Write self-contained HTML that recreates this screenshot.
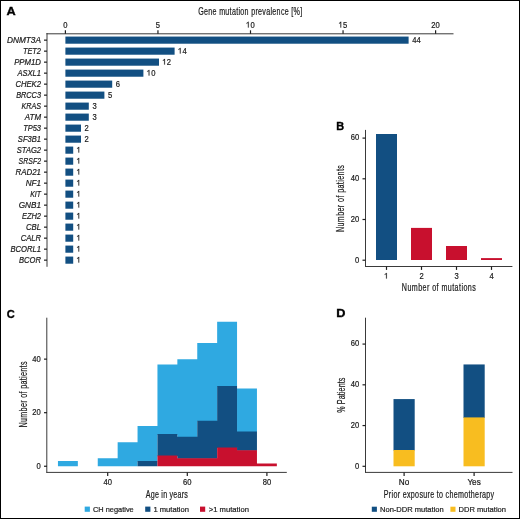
<!DOCTYPE html>
<html><head><meta charset="utf-8"><style>
html,body{margin:0;padding:0;background:#fff;}
body{width:520px;height:519px;overflow:hidden;}
svg{display:block;font-family:"Liberation Sans", sans-serif;will-change:transform;}
</style></head><body>
<svg width="520" height="519" viewBox="0 0 520 519">
<rect x="0" y="0" width="520" height="519" fill="#fff"/>
<text x="6.5" y="14.8" font-size="11.5" text-anchor="start" fill="#000" font-weight="bold" stroke="#000" stroke-width="0.35" textLength="9.2" lengthAdjust="spacingAndGlyphs">A</text>
<text x="0" y="0" font-size="10.2" text-anchor="middle" fill="#1a1a1a" stroke="#1a1a1a" stroke-width="0.214" textLength="148.57" lengthAdjust="spacing" transform="translate(250.2 15.0) scale(0.7 1)">Gene mutation prevalence [%]</text>
<line x1="46.5" y1="33.8" x2="453.5" y2="33.8" stroke="#3a3a3a" stroke-width="1"/>
<line x1="47" y1="33" x2="47" y2="266.8" stroke="#3a3a3a" stroke-width="1"/>
<line x1="65.4" y1="30.3" x2="65.4" y2="33.8" stroke="#1e1e1e" stroke-width="1.2"/>
<text x="63.28" y="27.5" font-size="8.2" text-anchor="start" fill="#1a1a1a" stroke="#1a1a1a" stroke-width="0.2" textLength="4.24" lengthAdjust="spacingAndGlyphs">0</text>
<line x1="157.95000000000002" y1="30.3" x2="157.95000000000002" y2="33.8" stroke="#1e1e1e" stroke-width="1.2"/>
<text x="155.83" y="27.5" font-size="8.2" text-anchor="start" fill="#1a1a1a" stroke="#1a1a1a" stroke-width="0.2" textLength="4.24" lengthAdjust="spacingAndGlyphs">5</text>
<line x1="250.50000000000003" y1="30.3" x2="250.50000000000003" y2="33.8" stroke="#1e1e1e" stroke-width="1.2"/>
<path d="M0.31 0L0.31 -0.69L0.235 -0.69Q0.15 -0.58 0.04 -0.54L0.04 -0.46Q0.15 -0.5 0.22 -0.57L0.22 0Z" transform="translate(246.26 27.50) scale(7.626 8.200)" fill="#1a1a1a" stroke="#1a1a1a" stroke-width="0.0244"/>
<text x="250.5" y="27.5" font-size="8.2" text-anchor="start" fill="#1a1a1a" stroke="#1a1a1a" stroke-width="0.2" textLength="4.24" lengthAdjust="spacingAndGlyphs">0</text>
<line x1="343.05000000000007" y1="30.3" x2="343.05000000000007" y2="33.8" stroke="#1e1e1e" stroke-width="1.2"/>
<path d="M0.31 0L0.31 -0.69L0.235 -0.69Q0.15 -0.58 0.04 -0.54L0.04 -0.46Q0.15 -0.5 0.22 -0.57L0.22 0Z" transform="translate(338.81 27.50) scale(7.626 8.200)" fill="#1a1a1a" stroke="#1a1a1a" stroke-width="0.0244"/>
<text x="343.05" y="27.5" font-size="8.2" text-anchor="start" fill="#1a1a1a" stroke="#1a1a1a" stroke-width="0.2" textLength="4.24" lengthAdjust="spacingAndGlyphs">5</text>
<line x1="435.6" y1="30.3" x2="435.6" y2="33.8" stroke="#1e1e1e" stroke-width="1.2"/>
<text x="431.36" y="27.5" font-size="8.2" text-anchor="start" fill="#1a1a1a" stroke="#1a1a1a" stroke-width="0.2" textLength="4.24" lengthAdjust="spacingAndGlyphs">2</text>
<text x="435.6" y="27.5" font-size="8.2" text-anchor="start" fill="#1a1a1a" stroke="#1a1a1a" stroke-width="0.2" textLength="4.24" lengthAdjust="spacingAndGlyphs">0</text>
<rect x="65.40" y="36.57" width="343.20" height="7.15" fill="#124f82"/>
<line x1="44" y1="40.15" x2="47" y2="40.15" stroke="#1e1e1e" stroke-width="1.2"/>
<text x="41.0" y="42.65" font-size="8.4" text-anchor="end" fill="#1a1a1a" stroke="#1a1a1a" stroke-width="0.2" font-style="italic" textLength="34.076943288295" lengthAdjust="spacingAndGlyphs">DNMT3A</text>
<text x="412.2" y="42.55" font-size="8.2" text-anchor="start" fill="#1a1a1a" stroke="#1a1a1a" stroke-width="0.2" textLength="4.24" lengthAdjust="spacingAndGlyphs">4</text>
<text x="416.44" y="42.55" font-size="8.2" text-anchor="start" fill="#1a1a1a" stroke="#1a1a1a" stroke-width="0.2" textLength="4.24" lengthAdjust="spacingAndGlyphs">4</text>
<rect x="65.40" y="47.57" width="109.20" height="7.15" fill="#124f82"/>
<line x1="44" y1="51.15" x2="47" y2="51.15" stroke="#1e1e1e" stroke-width="1.2"/>
<text x="41.0" y="53.65" font-size="8.4" text-anchor="end" fill="#1a1a1a" stroke="#1a1a1a" stroke-width="0.2" font-style="italic" textLength="18.109558183622358" lengthAdjust="spacingAndGlyphs">TET2</text>
<path d="M0.31 0L0.31 -0.69L0.235 -0.69Q0.15 -0.58 0.04 -0.54L0.04 -0.46Q0.15 -0.5 0.22 -0.57L0.22 0Z" transform="translate(178.20 53.55) scale(7.626 8.200)" fill="#1a1a1a" stroke="#1a1a1a" stroke-width="0.0244"/>
<text x="182.44" y="53.55" font-size="8.2" text-anchor="start" fill="#1a1a1a" stroke="#1a1a1a" stroke-width="0.2" textLength="4.24" lengthAdjust="spacingAndGlyphs">4</text>
<rect x="65.40" y="58.57" width="93.60" height="7.15" fill="#124f82"/>
<line x1="44" y1="62.15" x2="47" y2="62.15" stroke="#1e1e1e" stroke-width="1.2"/>
<text x="41.0" y="64.65" font-size="8.4" text-anchor="end" fill="#1a1a1a" stroke="#1a1a1a" stroke-width="0.2" font-style="italic" textLength="26.82558168280684" lengthAdjust="spacingAndGlyphs">PPM1D</text>
<path d="M0.31 0L0.31 -0.69L0.235 -0.69Q0.15 -0.58 0.04 -0.54L0.04 -0.46Q0.15 -0.5 0.22 -0.57L0.22 0Z" transform="translate(162.60 64.55) scale(7.626 8.200)" fill="#1a1a1a" stroke="#1a1a1a" stroke-width="0.0244"/>
<text x="166.84" y="64.55" font-size="8.2" text-anchor="start" fill="#1a1a1a" stroke="#1a1a1a" stroke-width="0.2" textLength="4.24" lengthAdjust="spacingAndGlyphs">2</text>
<rect x="65.40" y="69.58" width="78.00" height="7.15" fill="#124f82"/>
<line x1="44" y1="73.15" x2="47" y2="73.15" stroke="#1e1e1e" stroke-width="1.2"/>
<text x="41.0" y="75.65" font-size="8.4" text-anchor="end" fill="#1a1a1a" stroke="#1a1a1a" stroke-width="0.2" font-style="italic" textLength="23.534462072824617" lengthAdjust="spacingAndGlyphs">ASXL1</text>
<path d="M0.31 0L0.31 -0.69L0.235 -0.69Q0.15 -0.58 0.04 -0.54L0.04 -0.46Q0.15 -0.5 0.22 -0.57L0.22 0Z" transform="translate(147.00 75.55) scale(7.626 8.200)" fill="#1a1a1a" stroke="#1a1a1a" stroke-width="0.0244"/>
<text x="151.24" y="75.55000000000001" font-size="8.2" text-anchor="start" fill="#1a1a1a" stroke="#1a1a1a" stroke-width="0.2" textLength="4.24" lengthAdjust="spacingAndGlyphs">0</text>
<rect x="65.40" y="80.58" width="46.80" height="7.15" fill="#124f82"/>
<line x1="44" y1="84.15" x2="47" y2="84.15" stroke="#1e1e1e" stroke-width="1.2"/>
<text x="41.0" y="86.65" font-size="8.4" text-anchor="end" fill="#1a1a1a" stroke="#1a1a1a" stroke-width="0.2" font-style="italic" textLength="25.57915132068328" lengthAdjust="spacingAndGlyphs">CHEK2</text>
<text x="115.8" y="86.55000000000001" font-size="8.2" text-anchor="start" fill="#1a1a1a" stroke="#1a1a1a" stroke-width="0.2" textLength="4.24" lengthAdjust="spacingAndGlyphs">6</text>
<rect x="65.40" y="91.58" width="39.00" height="7.15" fill="#124f82"/>
<line x1="44" y1="95.15" x2="47" y2="95.15" stroke="#1e1e1e" stroke-width="1.2"/>
<text x="41.0" y="97.65" font-size="8.4" text-anchor="end" fill="#1a1a1a" stroke="#1a1a1a" stroke-width="0.2" font-style="italic" textLength="24.874509691104073" lengthAdjust="spacingAndGlyphs">BRCC3</text>
<text x="108.0" y="97.55000000000001" font-size="8.2" text-anchor="start" fill="#1a1a1a" stroke="#1a1a1a" stroke-width="0.2" textLength="4.24" lengthAdjust="spacingAndGlyphs">5</text>
<rect x="65.40" y="102.58" width="23.40" height="7.15" fill="#124f82"/>
<line x1="44" y1="106.15" x2="47" y2="106.15" stroke="#1e1e1e" stroke-width="1.2"/>
<text x="41.0" y="108.65" font-size="8.4" text-anchor="end" fill="#1a1a1a" stroke="#1a1a1a" stroke-width="0.2" font-style="italic" textLength="19.5273199488964" lengthAdjust="spacingAndGlyphs">KRAS</text>
<text x="92.4" y="108.55000000000001" font-size="8.2" text-anchor="start" fill="#1a1a1a" stroke="#1a1a1a" stroke-width="0.2" textLength="4.24" lengthAdjust="spacingAndGlyphs">3</text>
<rect x="65.40" y="113.58" width="23.40" height="7.15" fill="#124f82"/>
<line x1="44" y1="117.15" x2="47" y2="117.15" stroke="#1e1e1e" stroke-width="1.2"/>
<text x="41.0" y="119.65" font-size="8.4" text-anchor="end" fill="#1a1a1a" stroke="#1a1a1a" stroke-width="0.2" font-style="italic" textLength="16.145259999855693" lengthAdjust="spacingAndGlyphs">ATM</text>
<text x="92.4" y="119.55000000000001" font-size="8.2" text-anchor="start" fill="#1a1a1a" stroke="#1a1a1a" stroke-width="0.2" textLength="4.24" lengthAdjust="spacingAndGlyphs">3</text>
<rect x="65.40" y="124.58" width="15.60" height="7.15" fill="#124f82"/>
<line x1="44" y1="128.15" x2="47" y2="128.15" stroke="#1e1e1e" stroke-width="1.2"/>
<text x="41.0" y="130.65" font-size="8.4" text-anchor="end" fill="#1a1a1a" stroke="#1a1a1a" stroke-width="0.2" font-style="italic" textLength="17.867366826294017" lengthAdjust="spacingAndGlyphs">TP53</text>
<text x="84.6" y="130.55" font-size="8.2" text-anchor="start" fill="#1a1a1a" stroke="#1a1a1a" stroke-width="0.2" textLength="4.24" lengthAdjust="spacingAndGlyphs">2</text>
<rect x="65.40" y="135.58" width="15.60" height="7.15" fill="#124f82"/>
<line x1="44" y1="139.15" x2="47" y2="139.15" stroke="#1e1e1e" stroke-width="1.2"/>
<text x="41.0" y="141.65" font-size="8.4" text-anchor="end" fill="#1a1a1a" stroke="#1a1a1a" stroke-width="0.2" font-style="italic" textLength="23.145428843902177" lengthAdjust="spacingAndGlyphs">SF3B1</text>
<text x="84.6" y="141.55" font-size="8.2" text-anchor="start" fill="#1a1a1a" stroke="#1a1a1a" stroke-width="0.2" textLength="4.24" lengthAdjust="spacingAndGlyphs">2</text>
<rect x="65.40" y="146.58" width="7.80" height="7.15" fill="#124f82"/>
<line x1="44" y1="150.15" x2="47" y2="150.15" stroke="#1e1e1e" stroke-width="1.2"/>
<text x="41.0" y="152.65" font-size="8.4" text-anchor="end" fill="#1a1a1a" stroke="#1a1a1a" stroke-width="0.2" font-style="italic" textLength="24.17903157894739" lengthAdjust="spacingAndGlyphs">STAG2</text>
<path d="M0.31 0L0.31 -0.69L0.235 -0.69Q0.15 -0.58 0.04 -0.54L0.04 -0.46Q0.15 -0.5 0.22 -0.57L0.22 0Z" transform="translate(76.80 152.55) scale(7.626 8.200)" fill="#1a1a1a" stroke="#1a1a1a" stroke-width="0.0244"/>
<rect x="65.40" y="157.58" width="7.80" height="7.15" fill="#124f82"/>
<line x1="44" y1="161.15" x2="47" y2="161.15" stroke="#1e1e1e" stroke-width="1.2"/>
<text x="41.0" y="163.65" font-size="8.4" text-anchor="end" fill="#1a1a1a" stroke="#1a1a1a" stroke-width="0.2" font-style="italic" textLength="22.380416780871904" lengthAdjust="spacingAndGlyphs">SRSF2</text>
<path d="M0.31 0L0.31 -0.69L0.235 -0.69Q0.15 -0.58 0.04 -0.54L0.04 -0.46Q0.15 -0.5 0.22 -0.57L0.22 0Z" transform="translate(76.80 163.55) scale(7.626 8.200)" fill="#1a1a1a" stroke="#1a1a1a" stroke-width="0.0244"/>
<rect x="65.40" y="168.58" width="7.80" height="7.15" fill="#124f82"/>
<line x1="44" y1="172.15" x2="47" y2="172.15" stroke="#1e1e1e" stroke-width="1.2"/>
<text x="41.0" y="174.65" font-size="8.4" text-anchor="end" fill="#1a1a1a" stroke="#1a1a1a" stroke-width="0.2" font-style="italic" textLength="25.391943204145893" lengthAdjust="spacingAndGlyphs">RAD21</text>
<path d="M0.31 0L0.31 -0.69L0.235 -0.69Q0.15 -0.58 0.04 -0.54L0.04 -0.46Q0.15 -0.5 0.22 -0.57L0.22 0Z" transform="translate(76.80 174.55) scale(7.626 8.200)" fill="#1a1a1a" stroke="#1a1a1a" stroke-width="0.0244"/>
<rect x="65.40" y="179.58" width="7.80" height="7.15" fill="#124f82"/>
<line x1="44" y1="183.15" x2="47" y2="183.15" stroke="#1e1e1e" stroke-width="1.2"/>
<text x="41.0" y="185.65" font-size="8.4" text-anchor="end" fill="#1a1a1a" stroke="#1a1a1a" stroke-width="0.2" font-style="italic" textLength="15.248808805485544" lengthAdjust="spacingAndGlyphs">NF1</text>
<path d="M0.31 0L0.31 -0.69L0.235 -0.69Q0.15 -0.58 0.04 -0.54L0.04 -0.46Q0.15 -0.5 0.22 -0.57L0.22 0Z" transform="translate(76.80 185.55) scale(7.626 8.200)" fill="#1a1a1a" stroke="#1a1a1a" stroke-width="0.0244"/>
<rect x="65.40" y="190.58" width="7.80" height="7.15" fill="#124f82"/>
<line x1="44" y1="194.15" x2="47" y2="194.15" stroke="#1e1e1e" stroke-width="1.2"/>
<text x="41.0" y="196.65" font-size="8.4" text-anchor="end" fill="#1a1a1a" stroke="#1a1a1a" stroke-width="0.2" font-style="italic" textLength="10.75603571428575" lengthAdjust="spacingAndGlyphs">KIT</text>
<path d="M0.31 0L0.31 -0.69L0.235 -0.69Q0.15 -0.58 0.04 -0.54L0.04 -0.46Q0.15 -0.5 0.22 -0.57L0.22 0Z" transform="translate(76.80 196.55) scale(7.626 8.200)" fill="#1a1a1a" stroke="#1a1a1a" stroke-width="0.0244"/>
<rect x="65.40" y="201.58" width="7.80" height="7.15" fill="#124f82"/>
<line x1="44" y1="205.15" x2="47" y2="205.15" stroke="#1e1e1e" stroke-width="1.2"/>
<text x="41.0" y="207.65" font-size="8.4" text-anchor="end" fill="#1a1a1a" stroke="#1a1a1a" stroke-width="0.2" font-style="italic" textLength="22.25308646367868" lengthAdjust="spacingAndGlyphs">GNB1</text>
<path d="M0.31 0L0.31 -0.69L0.235 -0.69Q0.15 -0.58 0.04 -0.54L0.04 -0.46Q0.15 -0.5 0.22 -0.57L0.22 0Z" transform="translate(76.80 207.55) scale(7.626 8.200)" fill="#1a1a1a" stroke="#1a1a1a" stroke-width="0.0244"/>
<rect x="65.40" y="212.58" width="7.80" height="7.15" fill="#124f82"/>
<line x1="44" y1="216.15" x2="47" y2="216.15" stroke="#1e1e1e" stroke-width="1.2"/>
<text x="41.0" y="218.65" font-size="8.4" text-anchor="end" fill="#1a1a1a" stroke="#1a1a1a" stroke-width="0.2" font-style="italic" textLength="19.044468519656053" lengthAdjust="spacingAndGlyphs">EZH2</text>
<path d="M0.31 0L0.31 -0.69L0.235 -0.69Q0.15 -0.58 0.04 -0.54L0.04 -0.46Q0.15 -0.5 0.22 -0.57L0.22 0Z" transform="translate(76.80 218.55) scale(7.626 8.200)" fill="#1a1a1a" stroke="#1a1a1a" stroke-width="0.0244"/>
<rect x="65.40" y="223.58" width="7.80" height="7.15" fill="#124f82"/>
<line x1="44" y1="227.15" x2="47" y2="227.15" stroke="#1e1e1e" stroke-width="1.2"/>
<text x="41.0" y="229.65" font-size="8.4" text-anchor="end" fill="#1a1a1a" stroke="#1a1a1a" stroke-width="0.2" font-style="italic" textLength="14.98637311056936" lengthAdjust="spacingAndGlyphs">CBL</text>
<path d="M0.31 0L0.31 -0.69L0.235 -0.69Q0.15 -0.58 0.04 -0.54L0.04 -0.46Q0.15 -0.5 0.22 -0.57L0.22 0Z" transform="translate(76.80 229.55) scale(7.626 8.200)" fill="#1a1a1a" stroke="#1a1a1a" stroke-width="0.0244"/>
<rect x="65.40" y="234.58" width="7.80" height="7.15" fill="#124f82"/>
<line x1="44" y1="238.15" x2="47" y2="238.15" stroke="#1e1e1e" stroke-width="1.2"/>
<text x="41.0" y="240.65" font-size="8.4" text-anchor="end" fill="#1a1a1a" stroke="#1a1a1a" stroke-width="0.2" font-style="italic" textLength="20.344286120355243" lengthAdjust="spacingAndGlyphs">CALR</text>
<path d="M0.31 0L0.31 -0.69L0.235 -0.69Q0.15 -0.58 0.04 -0.54L0.04 -0.46Q0.15 -0.5 0.22 -0.57L0.22 0Z" transform="translate(76.80 240.55) scale(7.626 8.200)" fill="#1a1a1a" stroke="#1a1a1a" stroke-width="0.0244"/>
<rect x="65.40" y="245.58" width="7.80" height="7.15" fill="#124f82"/>
<line x1="44" y1="249.15" x2="47" y2="249.15" stroke="#1e1e1e" stroke-width="1.2"/>
<text x="41.0" y="251.65" font-size="8.4" text-anchor="end" fill="#1a1a1a" stroke="#1a1a1a" stroke-width="0.2" font-style="italic" textLength="30.52855906493266" lengthAdjust="spacingAndGlyphs">BCORL1</text>
<path d="M0.31 0L0.31 -0.69L0.235 -0.69Q0.15 -0.58 0.04 -0.54L0.04 -0.46Q0.15 -0.5 0.22 -0.57L0.22 0Z" transform="translate(76.80 251.55) scale(7.626 8.200)" fill="#1a1a1a" stroke="#1a1a1a" stroke-width="0.0244"/>
<rect x="65.40" y="256.57" width="7.80" height="7.15" fill="#124f82"/>
<line x1="44" y1="260.15" x2="47" y2="260.15" stroke="#1e1e1e" stroke-width="1.2"/>
<text x="41.0" y="262.65" font-size="8.4" text-anchor="end" fill="#1a1a1a" stroke="#1a1a1a" stroke-width="0.2" font-style="italic" textLength="21.922466558929376" lengthAdjust="spacingAndGlyphs">BCOR</text>
<path d="M0.31 0L0.31 -0.69L0.235 -0.69Q0.15 -0.58 0.04 -0.54L0.04 -0.46Q0.15 -0.5 0.22 -0.57L0.22 0Z" transform="translate(76.80 262.55) scale(7.626 8.200)" fill="#1a1a1a" stroke="#1a1a1a" stroke-width="0.0244"/>
<text x="336.2" y="129.8" font-size="11.5" text-anchor="start" fill="#000" font-weight="bold" stroke="#000" stroke-width="0.35" textLength="7.9" lengthAdjust="spacingAndGlyphs">B</text>
<line x1="365.5" y1="129.9" x2="365.5" y2="267" stroke="#3a3a3a" stroke-width="1"/>
<line x1="365" y1="266.5" x2="512.4" y2="266.5" stroke="#3a3a3a" stroke-width="1"/>
<line x1="362.5" y1="260.2" x2="365.5" y2="260.2" stroke="#1e1e1e" stroke-width="1.2"/>
<text x="355.06" y="262.5" font-size="8.2" text-anchor="start" fill="#1a1a1a" stroke="#1a1a1a" stroke-width="0.2" textLength="4.24" lengthAdjust="spacingAndGlyphs">0</text>
<line x1="362.5" y1="219.5" x2="365.5" y2="219.5" stroke="#1e1e1e" stroke-width="1.2"/>
<text x="350.82" y="221.8" font-size="8.2" text-anchor="start" fill="#1a1a1a" stroke="#1a1a1a" stroke-width="0.2" textLength="4.24" lengthAdjust="spacingAndGlyphs">2</text>
<text x="355.06" y="221.8" font-size="8.2" text-anchor="start" fill="#1a1a1a" stroke="#1a1a1a" stroke-width="0.2" textLength="4.24" lengthAdjust="spacingAndGlyphs">0</text>
<line x1="362.5" y1="178.79999999999998" x2="365.5" y2="178.79999999999998" stroke="#1e1e1e" stroke-width="1.2"/>
<text x="350.82" y="181.1" font-size="8.2" text-anchor="start" fill="#1a1a1a" stroke="#1a1a1a" stroke-width="0.2" textLength="4.24" lengthAdjust="spacingAndGlyphs">4</text>
<text x="355.06" y="181.1" font-size="8.2" text-anchor="start" fill="#1a1a1a" stroke="#1a1a1a" stroke-width="0.2" textLength="4.24" lengthAdjust="spacingAndGlyphs">0</text>
<line x1="362.5" y1="138.09999999999997" x2="365.5" y2="138.09999999999997" stroke="#1e1e1e" stroke-width="1.2"/>
<text x="350.82" y="140.39999999999998" font-size="8.2" text-anchor="start" fill="#1a1a1a" stroke="#1a1a1a" stroke-width="0.2" textLength="4.24" lengthAdjust="spacingAndGlyphs">6</text>
<text x="355.06" y="140.39999999999998" font-size="8.2" text-anchor="start" fill="#1a1a1a" stroke="#1a1a1a" stroke-width="0.2" textLength="4.24" lengthAdjust="spacingAndGlyphs">0</text>
<rect x="376.00" y="134.00" width="21.00" height="126.00" fill="#124f82"/>
<line x1="386.5" y1="266.5" x2="386.5" y2="269.9" stroke="#1e1e1e" stroke-width="1.2"/>
<path d="M0.31 0L0.31 -0.69L0.235 -0.69Q0.15 -0.58 0.04 -0.54L0.04 -0.46Q0.15 -0.5 0.22 -0.57L0.22 0Z" transform="translate(384.38 278.60) scale(7.626 8.200)" fill="#1a1a1a" stroke="#1a1a1a" stroke-width="0.0244"/>
<rect x="411.00" y="227.90" width="21.00" height="32.10" fill="#c8102e"/>
<line x1="421.5" y1="266.5" x2="421.5" y2="269.9" stroke="#1e1e1e" stroke-width="1.2"/>
<text x="419.38" y="278.6" font-size="8.2" text-anchor="start" fill="#1a1a1a" stroke="#1a1a1a" stroke-width="0.2" textLength="4.24" lengthAdjust="spacingAndGlyphs">2</text>
<rect x="446.00" y="246.00" width="21.00" height="14.00" fill="#c8102e"/>
<line x1="456.5" y1="266.5" x2="456.5" y2="269.9" stroke="#1e1e1e" stroke-width="1.2"/>
<text x="454.38" y="278.6" font-size="8.2" text-anchor="start" fill="#1a1a1a" stroke="#1a1a1a" stroke-width="0.2" textLength="4.24" lengthAdjust="spacingAndGlyphs">3</text>
<rect x="481.00" y="258.10" width="21.00" height="1.90" fill="#c8102e"/>
<line x1="491.5" y1="266.5" x2="491.5" y2="269.9" stroke="#1e1e1e" stroke-width="1.2"/>
<text x="489.38" y="278.6" font-size="8.2" text-anchor="start" fill="#1a1a1a" stroke="#1a1a1a" stroke-width="0.2" textLength="4.24" lengthAdjust="spacingAndGlyphs">4</text>
<text x="0" y="0" font-size="10.2" text-anchor="middle" fill="#1a1a1a" stroke="#1a1a1a" stroke-width="0.214" textLength="105.71" lengthAdjust="spacing" transform="translate(438.8 291.3) scale(0.7 1)">Number of mutations</text>
<text x="0" y="0" font-size="10.2" text-anchor="middle" fill="#1a1a1a" stroke="#1a1a1a" stroke-width="0.214" textLength="95.71" lengthAdjust="spacing" transform="translate(344.3 198.6) rotate(-90) scale(0.7 1)">Number of patients</text>
<text x="6.8" y="318" font-size="11.5" text-anchor="start" fill="#000" font-weight="bold" stroke="#000" stroke-width="0.35" textLength="8.0" lengthAdjust="spacingAndGlyphs">C</text>
<line x1="46.8" y1="317.7" x2="46.8" y2="472.7" stroke="#3a3a3a" stroke-width="1"/>
<line x1="46.3" y1="472.4" x2="286.8" y2="472.4" stroke="#3a3a3a" stroke-width="1"/>
<line x1="44" y1="466.25" x2="47" y2="466.25" stroke="#1e1e1e" stroke-width="1.2"/>
<text x="36.56" y="468.85" font-size="8.2" text-anchor="start" fill="#1a1a1a" stroke="#1a1a1a" stroke-width="0.2" textLength="4.24" lengthAdjust="spacingAndGlyphs">0</text>
<line x1="44" y1="412.69" x2="47" y2="412.69" stroke="#1e1e1e" stroke-width="1.2"/>
<text x="32.32" y="415.29" font-size="8.2" text-anchor="start" fill="#1a1a1a" stroke="#1a1a1a" stroke-width="0.2" textLength="4.24" lengthAdjust="spacingAndGlyphs">2</text>
<text x="36.56" y="415.29" font-size="8.2" text-anchor="start" fill="#1a1a1a" stroke="#1a1a1a" stroke-width="0.2" textLength="4.24" lengthAdjust="spacingAndGlyphs">0</text>
<line x1="44" y1="359.13" x2="47" y2="359.13" stroke="#1e1e1e" stroke-width="1.2"/>
<text x="32.32" y="361.73" font-size="8.2" text-anchor="start" fill="#1a1a1a" stroke="#1a1a1a" stroke-width="0.2" textLength="4.24" lengthAdjust="spacingAndGlyphs">4</text>
<text x="36.56" y="361.73" font-size="8.2" text-anchor="start" fill="#1a1a1a" stroke="#1a1a1a" stroke-width="0.2" textLength="4.24" lengthAdjust="spacingAndGlyphs">0</text>
<line x1="107.7" y1="472.4" x2="107.7" y2="475.9" stroke="#1e1e1e" stroke-width="1.2"/>
<text x="103.46" y="485" font-size="8.2" text-anchor="start" fill="#1a1a1a" stroke="#1a1a1a" stroke-width="0.2" textLength="4.24" lengthAdjust="spacingAndGlyphs">4</text>
<text x="107.7" y="485" font-size="8.2" text-anchor="start" fill="#1a1a1a" stroke="#1a1a1a" stroke-width="0.2" textLength="4.24" lengthAdjust="spacingAndGlyphs">0</text>
<line x1="187.3" y1="472.4" x2="187.3" y2="475.9" stroke="#1e1e1e" stroke-width="1.2"/>
<text x="183.06" y="485" font-size="8.2" text-anchor="start" fill="#1a1a1a" stroke="#1a1a1a" stroke-width="0.2" textLength="4.24" lengthAdjust="spacingAndGlyphs">6</text>
<text x="187.3" y="485" font-size="8.2" text-anchor="start" fill="#1a1a1a" stroke="#1a1a1a" stroke-width="0.2" textLength="4.24" lengthAdjust="spacingAndGlyphs">0</text>
<line x1="266.9" y1="472.4" x2="266.9" y2="475.9" stroke="#1e1e1e" stroke-width="1.2"/>
<text x="262.66" y="485" font-size="8.2" text-anchor="start" fill="#1a1a1a" stroke="#1a1a1a" stroke-width="0.2" textLength="4.24" lengthAdjust="spacingAndGlyphs">8</text>
<text x="266.9" y="485" font-size="8.2" text-anchor="start" fill="#1a1a1a" stroke="#1a1a1a" stroke-width="0.2" textLength="4.24" lengthAdjust="spacingAndGlyphs">0</text>
<path d="M57.95 466.25H77.85V460.89H57.95ZM97.75 466.25H117.65V458.22H97.75ZM117.65 466.25H137.55V442.15H117.65ZM137.55 461.49H157.45V426.08H137.55ZM157.45 434.71H177.35V364.49H157.45ZM177.35 437.39H197.25V359.13H177.35ZM197.25 421.32H217.15V343.06H197.25ZM217.15 386.51H237.05V321.64H217.15ZM237.05 432.04H256.95V388.59H237.05Z" fill="#2fa9e1"/>
<path d="M137.55 466.25H157.45V460.89H137.55ZM157.45 456.14H177.35V434.11H157.45ZM177.35 458.82H197.25V436.79H177.35ZM197.25 458.82H217.15V420.72H197.25ZM217.15 448.10H237.05V385.91H217.15ZM237.05 450.78H256.95V431.44H237.05Z" fill="#124f82"/>
<path d="M157.45 466.25H177.35V455.54H157.45ZM177.35 466.25H197.25V458.22H177.35ZM197.25 466.25H217.15V458.22H197.25ZM217.15 466.25H237.05V447.50H217.15ZM237.05 466.25H256.95V450.18H237.05ZM256.95 466.25H276.85V463.57H256.95Z" fill="#c8102e"/>
<text x="0" y="0" font-size="10.2" text-anchor="middle" fill="#1a1a1a" stroke="#1a1a1a" stroke-width="0.214" textLength="60.00" lengthAdjust="spacing" transform="translate(166.8 497.9) scale(0.7 1)">Age in years</text>
<text x="0" y="0" font-size="10.2" text-anchor="middle" fill="#1a1a1a" stroke="#1a1a1a" stroke-width="0.214" textLength="94.29" lengthAdjust="spacing" transform="translate(26.6 394.5) rotate(-90) scale(0.7 1)">Number of patients</text>
<rect x="84.70" y="506.60" width="5.20" height="5.20" fill="#2fa9e1"/>
<text x="93" y="511.8" font-size="8.0" text-anchor="start" fill="#1a1a1a" stroke="#1a1a1a" stroke-width="0.2" textLength="40.7" lengthAdjust="spacingAndGlyphs">CH negative</text>
<rect x="145.20" y="506.60" width="5.20" height="5.20" fill="#124f82"/>
<text x="153.4" y="511.8" font-size="8.0" text-anchor="start" fill="#1a1a1a" stroke="#1a1a1a" stroke-width="0.2" textLength="35.5" lengthAdjust="spacingAndGlyphs">1 mutation</text>
<rect x="200.00" y="506.60" width="5.20" height="5.20" fill="#c8102e"/>
<text x="208.8" y="511.8" font-size="8.0" text-anchor="start" fill="#1a1a1a" stroke="#1a1a1a" stroke-width="0.2" textLength="40.1" lengthAdjust="spacingAndGlyphs">&gt;1 mutation</text>
<text x="336.2" y="317.3" font-size="11.5" text-anchor="start" fill="#000" font-weight="bold" stroke="#000" stroke-width="0.35" textLength="9.2" lengthAdjust="spacingAndGlyphs">D</text>
<line x1="365.5" y1="317.7" x2="365.5" y2="472.7" stroke="#3a3a3a" stroke-width="1"/>
<line x1="365" y1="472.4" x2="512.5" y2="472.4" stroke="#3a3a3a" stroke-width="1"/>
<line x1="362.5" y1="466.3" x2="365.5" y2="466.3" stroke="#1e1e1e" stroke-width="1.2"/>
<text x="355.06" y="468.7" font-size="8.2" text-anchor="start" fill="#1a1a1a" stroke="#1a1a1a" stroke-width="0.2" textLength="4.24" lengthAdjust="spacingAndGlyphs">0</text>
<line x1="362.5" y1="425.56" x2="365.5" y2="425.56" stroke="#1e1e1e" stroke-width="1.2"/>
<text x="350.82" y="427.96" font-size="8.2" text-anchor="start" fill="#1a1a1a" stroke="#1a1a1a" stroke-width="0.2" textLength="4.24" lengthAdjust="spacingAndGlyphs">2</text>
<text x="355.06" y="427.96" font-size="8.2" text-anchor="start" fill="#1a1a1a" stroke="#1a1a1a" stroke-width="0.2" textLength="4.24" lengthAdjust="spacingAndGlyphs">0</text>
<line x1="362.5" y1="384.82000000000005" x2="365.5" y2="384.82000000000005" stroke="#1e1e1e" stroke-width="1.2"/>
<text x="350.82" y="387.22" font-size="8.2" text-anchor="start" fill="#1a1a1a" stroke="#1a1a1a" stroke-width="0.2" textLength="4.24" lengthAdjust="spacingAndGlyphs">4</text>
<text x="355.06" y="387.22" font-size="8.2" text-anchor="start" fill="#1a1a1a" stroke="#1a1a1a" stroke-width="0.2" textLength="4.24" lengthAdjust="spacingAndGlyphs">0</text>
<line x1="362.5" y1="344.08000000000004" x2="365.5" y2="344.08000000000004" stroke="#1e1e1e" stroke-width="1.2"/>
<text x="350.82" y="346.48" font-size="8.2" text-anchor="start" fill="#1a1a1a" stroke="#1a1a1a" stroke-width="0.2" textLength="4.24" lengthAdjust="spacingAndGlyphs">6</text>
<text x="355.06" y="346.48" font-size="8.2" text-anchor="start" fill="#1a1a1a" stroke="#1a1a1a" stroke-width="0.2" textLength="4.24" lengthAdjust="spacingAndGlyphs">0</text>
<rect x="393.50" y="399.08" width="21.20" height="51.52" fill="#124f82"/>
<rect x="393.50" y="450.00" width="21.20" height="16.30" fill="#f8bd20"/>
<line x1="404.1" y1="472.4" x2="404.1" y2="475.9" stroke="#1e1e1e" stroke-width="1.2"/>
<text x="404.1" y="484.8" font-size="8.2" text-anchor="middle" fill="#1a1a1a" stroke="#1a1a1a" stroke-width="0.2">No</text>
<rect x="463.50" y="364.45" width="21.20" height="53.56" fill="#124f82"/>
<rect x="463.50" y="417.41" width="21.20" height="48.89" fill="#f8bd20"/>
<line x1="474.1" y1="472.4" x2="474.1" y2="475.9" stroke="#1e1e1e" stroke-width="1.2"/>
<text x="474.1" y="484.8" font-size="8.2" text-anchor="middle" fill="#1a1a1a" stroke="#1a1a1a" stroke-width="0.2">Yes</text>
<text x="0" y="0" font-size="10.2" text-anchor="middle" fill="#1a1a1a" stroke="#1a1a1a" stroke-width="0.214" textLength="157.71" lengthAdjust="spacing" transform="translate(439 498.1) scale(0.7 1)">Prior exposure to chemotherapy</text>
<text x="0" y="0" font-size="10.2" text-anchor="middle" fill="#1a1a1a" stroke="#1a1a1a" stroke-width="0.214" textLength="50.43" lengthAdjust="spacing" transform="translate(344.9 395.2) rotate(-90) scale(0.7 1)">% Patients</text>
<rect x="371.80" y="506.70" width="5.10" height="5.10" fill="#124f82"/>
<text x="380" y="511.8" font-size="8.0" text-anchor="start" fill="#1a1a1a" stroke="#1a1a1a" stroke-width="0.2" textLength="63.7" lengthAdjust="spacingAndGlyphs">Non-DDR mutation</text>
<rect x="450.40" y="506.70" width="5.10" height="5.10" fill="#f8bd20"/>
<text x="458.6" y="511.8" font-size="8.0" text-anchor="start" fill="#1a1a1a" stroke="#1a1a1a" stroke-width="0.2" textLength="47.4" lengthAdjust="spacingAndGlyphs">DDR mutation</text>
<rect x="0.5" y="0.5" width="519" height="518" fill="none" stroke="#000" stroke-width="1"/>
</svg>
</body></html>
